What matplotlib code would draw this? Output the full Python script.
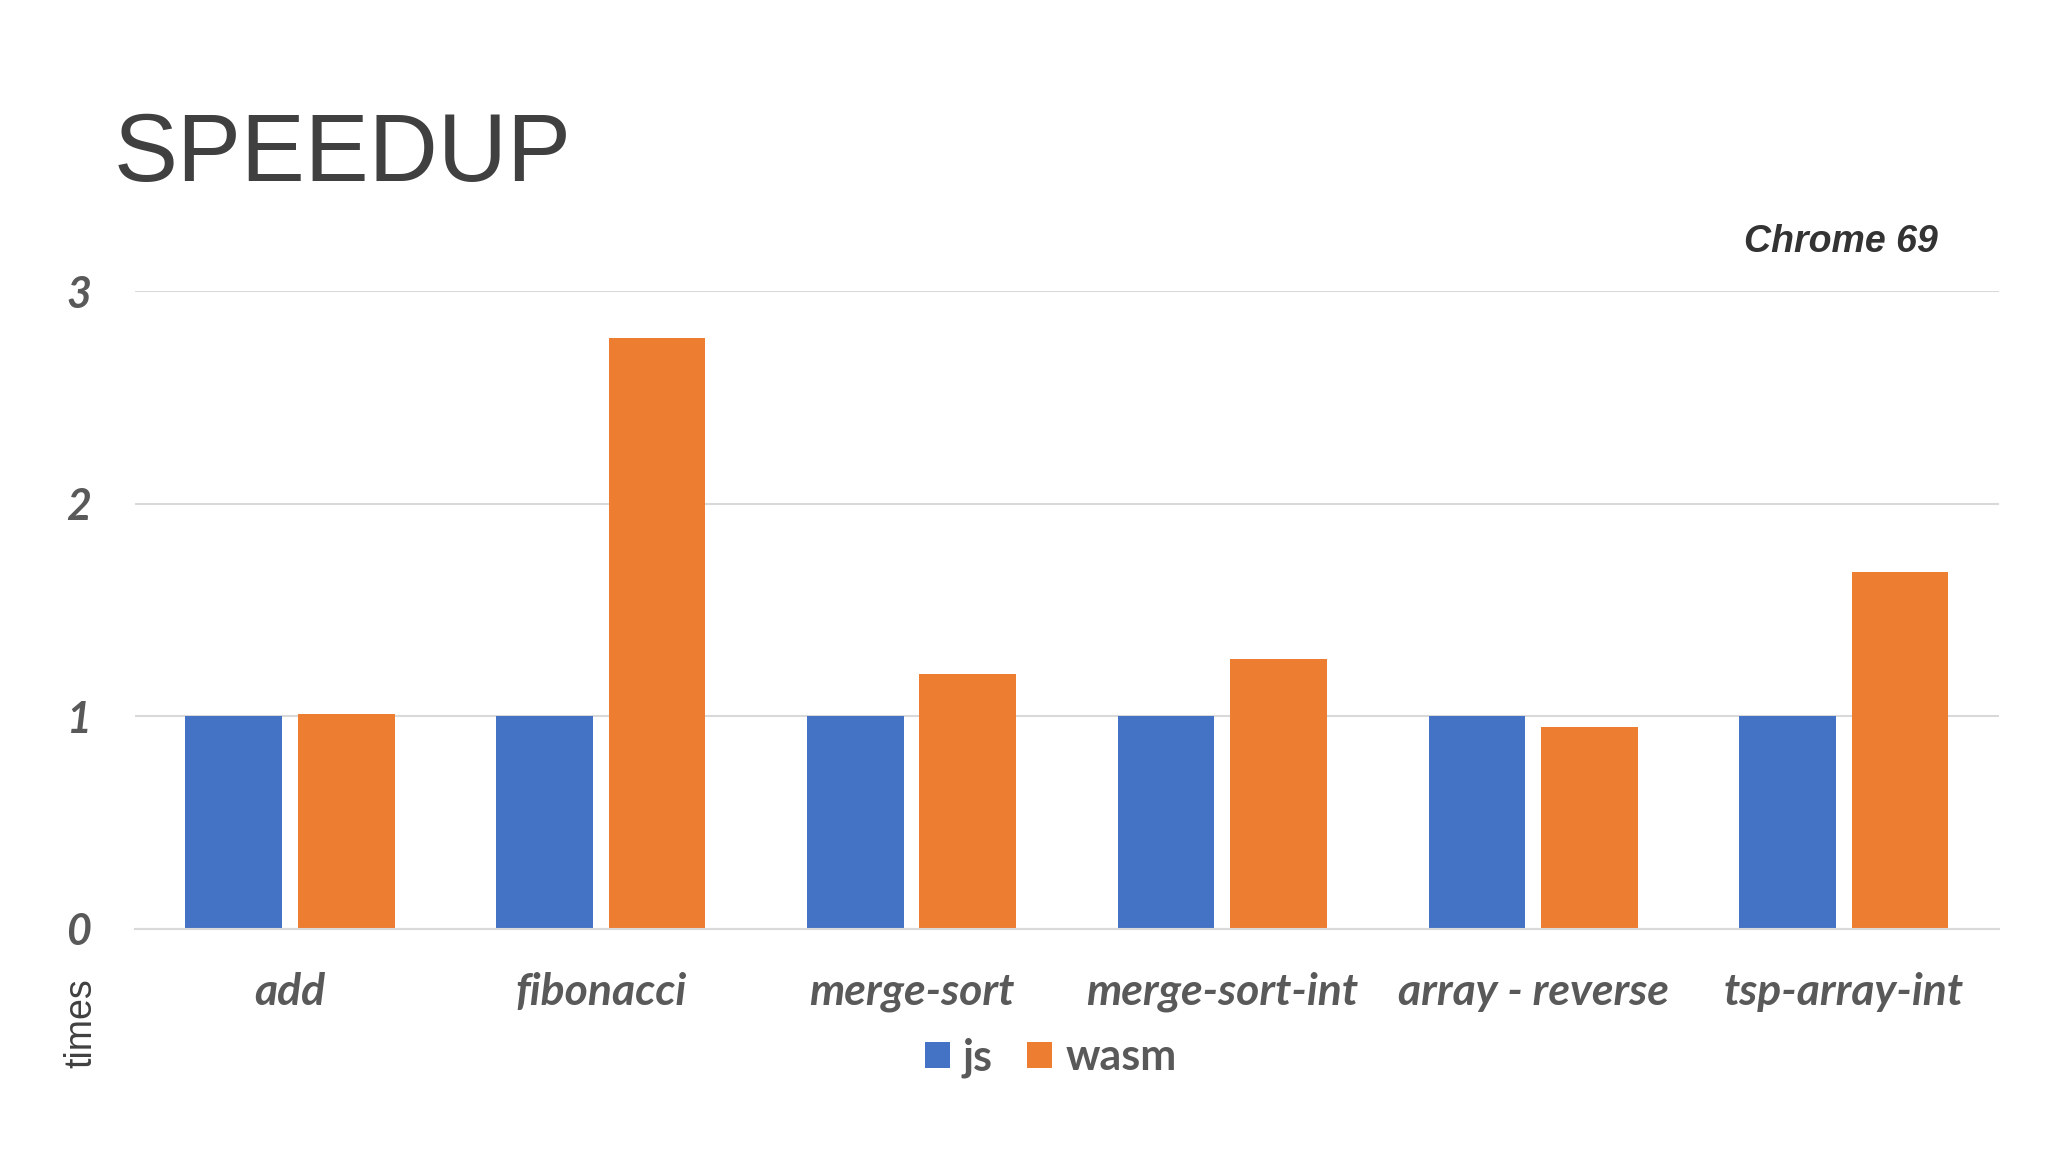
import matplotlib
matplotlib.use("Agg")
import matplotlib.pyplot as plt
import numpy as np
from matplotlib.patches import Patch

categories = ["add", "fibonacci", "merge-sort", "merge-sort-int", "array - reverse", "tsp-array-int"]
js_values = [1.0, 1.0, 1.0, 1.0, 1.0, 1.0]
wasm_values = [1.01, 2.78, 1.20, 1.27, 0.95, 1.68]
series_names = ["js", "wasm"]
y_ticks = [0, 1, 2, 3]
title_text = "SPEEDUP"
subtitle_text = "Chrome 69"
ylabel_text = "times"

BLUE = "#4472C4"
ORANGE = "#ED7D31"
LABEL_GRAY = "#595959"
TEXT_DARK = "#404040"
GRID = "#D9D9D9"

fig = plt.figure(figsize=(20.48, 11.52), dpi=100)
fig.patch.set_facecolor("white")
ax = fig.add_axes([0.0657, 0.194, 0.9105, 0.553])

x = np.arange(len(categories))
bw = 0.311
off = 0.181
ax.bar(x - off, js_values, width=bw, color=BLUE, zorder=3, label=series_names[0])
ax.bar(x + off, wasm_values, width=bw, color=ORANGE, zorder=3, label=series_names[1])

ax.set_xlim(-0.5, len(categories) - 0.5)
ax.set_ylim(0, 3)
ax.set_yticks(y_ticks)
ax.set_yticklabels([str(v) for v in y_ticks])
ax.set_xticks(x)
ax.set_xticklabels(categories)
for sp in ["top", "right", "left"]:
    ax.spines[sp].set_visible(False)
ax.spines["bottom"].set_color(GRID)
ax.spines["bottom"].set_linewidth(1.5)
ax.spines["bottom"].set_zorder(4)
ax.yaxis.grid(True, color=GRID, linewidth=1.5, zorder=0)
ax.set_axisbelow(True)
ax.tick_params(axis="both", length=0)
ax.tick_params(axis="x", pad=31)
for lab in ax.get_xticklabels() + ax.get_yticklabels():
    lab.set_fontfamily("Lato")
    lab.set_fontstyle("italic")
    lab.set_fontweight("bold")
    lab.set_fontsize(32)
    lab.set_color(LABEL_GRAY)
for lab in ax.get_yticklabels():
    lab.set_horizontalalignment("center")
    lab.set_fontsize(31)
ax.tick_params(axis="y", pad=40)

fig.text(0.0555, 0.8425, title_text, fontsize=69, family="Liberation Sans",
         color=TEXT_DARK, ha="left", va="baseline")
fig.text(0.946, 0.7815, subtitle_text, fontsize=27, family="Liberation Sans",
         fontstyle="italic", fontweight="bold", color="#333333", ha="right", va="baseline")
fig.text(0.0395, 0.112, ylabel_text, fontsize=27, family="Liberation Sans",
         color=TEXT_DARK, rotation=90, ha="center", va="center")

handles = [Patch(facecolor=BLUE, label=series_names[0]),
           Patch(facecolor=ORANGE, label=series_names[1])]
leg = fig.legend(handles=handles, loc="center", bbox_to_anchor=(0.513, 0.082), ncol=2,
                 frameon=False, handlelength=0.58, handleheight=0.58, handletextpad=0.3,
                 columnspacing=0.8, prop={"family": "Lato", "weight": "bold", "size": 31})
for t in leg.get_texts():
    t.set_color(LABEL_GRAY)

fig.savefig("out.png", dpi=100, facecolor="white")
